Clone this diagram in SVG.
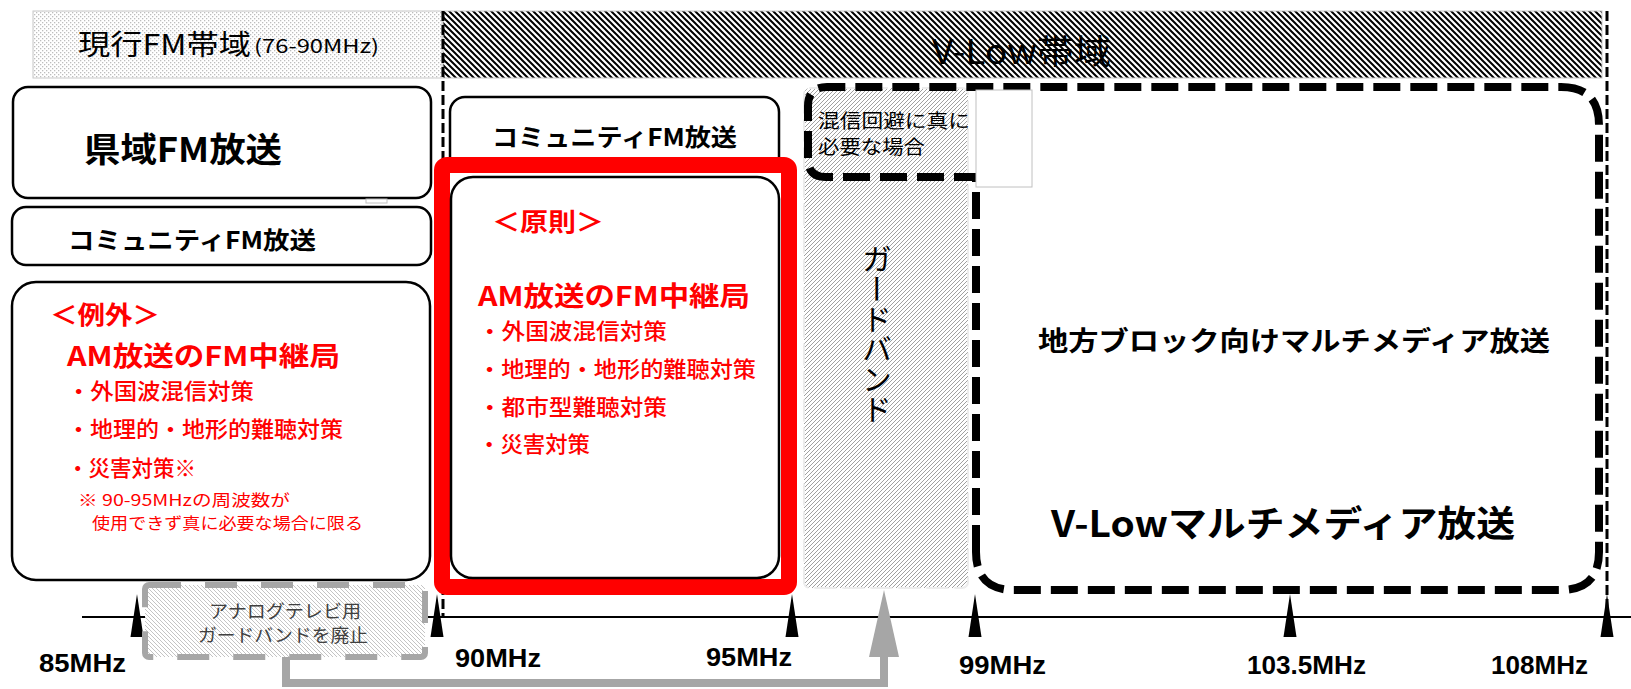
<svg xmlns="http://www.w3.org/2000/svg" xmlns:xlink="http://www.w3.org/1999/xlink" width="1631" height="689" viewBox="0 0 1631 689">
<style>
.jp{font-family:"Noto Sans CJK JP","Noto Sans",sans-serif;}
.b{font-weight:bold;}
.m{font-weight:500;}
.r{fill:#ff0000;}
.k{fill:#000;}
.lbl{font-family:"Liberation Sans",Arial,sans-serif;font-weight:bold;font-size:25px;fill:#000;}
.box{fill:#fff;stroke:#000;stroke-width:2.5;}
.bound{stroke:#000;stroke-width:3;stroke-dasharray:10 4;fill:none;}
</style>
<defs>
<pattern id="dots" width="4" height="4" patternUnits="userSpaceOnUse">
<rect width="4" height="4" fill="#fff"/>
<rect x="0" y="0" width="1.3" height="1.3" fill="#bdbdbd"/>
<rect x="2" y="2" width="1.3" height="1.3" fill="#bdbdbd"/>
</pattern>
<pattern id="hatchDark" width="6" height="6" patternUnits="userSpaceOnUse">
<rect width="6" height="6" fill="#fff"/>
<path d="M-1,-1 L7,7 M-1,5 L1,7 M5,-1 L7,1" stroke="#000" stroke-width="2"/>
</pattern>
<pattern id="hatchLight" width="4" height="4" patternUnits="userSpaceOnUse">
<rect width="4" height="4" fill="#fff"/>
<path d="M-1,5 L5,-1 M-1,1 L1,-1 M3,5 L5,3" stroke="#a0a0a0" stroke-width="1"/>
</pattern>
<pattern id="hatchGray" width="4" height="4" patternUnits="userSpaceOnUse">
<rect width="4" height="4" fill="#fff"/>
<path d="M-1,-1 L5,5 M-1,3 L1,5 M3,-1 L5,1" stroke="#c4c4c4" stroke-width="1"/>
</pattern>
<path id="tick" d="M0,-23 L6.5,20 L-6.5,20 Z" fill="#000"/>
<marker id="grayArrow" viewBox="0 0 67 30" markerWidth="67" markerHeight="30" refX="0" refY="15" orient="auto" markerUnits="userSpaceOnUse">
<path d="M0,0 L67,15 L0,30 Z" fill="#a6a6a6"/>
</marker>
</defs>
<rect width="1631" height="689" fill="#fff"/>

<g id="band-current-fm">
<rect x="33" y="11" width="409" height="67" fill="url(#dots)" stroke="#c8c8c8" stroke-width="1"/>
<text class="jp k" x="78" y="55" font-size="28" textLength="173" lengthAdjust="spacingAndGlyphs">現行FM帯域</text>
<text class="jp k" x="254" y="53" font-size="19" textLength="125" lengthAdjust="spacingAndGlyphs">(76-90MHz)</text>
</g>

<g id="band-vlow">
<rect x="443" y="11" width="1159" height="67" fill="url(#hatchDark)" stroke="#c8c8c8" stroke-width="1"/>
<text class="jp k" x="932" y="64" font-size="34" textLength="179" lengthAdjust="spacingAndGlyphs">V-Low帯域</text>
</g>

<g id="boundaries">
<line class="bound" x1="443" y1="11" x2="443" y2="617"/>
<line class="bound" x1="1607" y1="11" x2="1607" y2="617"/>
</g>

<g id="axis">
<line x1="82" y1="617" x2="1631" y2="617" stroke="#000" stroke-width="2"/>
<use xlink:href="#tick" x="137" y="617"/>
<use xlink:href="#tick" x="437" y="617"/>
<use xlink:href="#tick" x="792" y="617"/>
<use xlink:href="#tick" x="975" y="617"/>
<use xlink:href="#tick" x="1290" y="617"/>
<use xlink:href="#tick" x="1607" y="617"/>
<text class="lbl" x="39" y="672" textLength="87" lengthAdjust="spacingAndGlyphs">85MHz</text>
<text class="lbl" x="455" y="667" textLength="86" lengthAdjust="spacingAndGlyphs">90MHz</text>
<text class="lbl" x="706" y="666" textLength="86" lengthAdjust="spacingAndGlyphs">95MHz</text>
<text class="lbl" x="959" y="674" textLength="87" lengthAdjust="spacingAndGlyphs">99MHz</text>
<text class="lbl" x="1247" y="674" textLength="119" lengthAdjust="spacingAndGlyphs">103.5MHz</text>
<text class="lbl" x="1491" y="674" textLength="97" lengthAdjust="spacingAndGlyphs">108MHz</text>
</g>

<g id="node-prefecture-fm">
<rect class="box" x="13" y="87" width="418" height="111" rx="15"/>
<rect x="366" y="199" width="21" height="4" fill="#fff" stroke="#c0c0c0" stroke-width="1"/>
<text class="jp b k" x="84" y="162" font-size="34" textLength="198" lengthAdjust="spacingAndGlyphs">県域FM放送</text>
</g>

<g id="node-community-fm-left">
<rect class="box" x="12" y="207" width="419" height="58" rx="14"/>
<text class="jp b k" x="68" y="249" font-size="24" textLength="248" lengthAdjust="spacingAndGlyphs">コミュニティFM放送</text>
</g>

<g id="node-exception">
<rect class="box" x="12" y="282" width="418" height="298" rx="24"/>
<text class="jp b r" x="50" y="324" font-size="25" textLength="110" lengthAdjust="spacingAndGlyphs">＜例外＞</text>
<text class="jp b r" x="67" y="366" font-size="27" textLength="273" lengthAdjust="spacingAndGlyphs">AM放送のFM中継局</text>
<text class="jp m r" x="67" y="399" font-size="22" textLength="187" lengthAdjust="spacingAndGlyphs">・外国波混信対策</text>
<text class="jp m r" x="67" y="437" font-size="22" textLength="276" lengthAdjust="spacingAndGlyphs">・地理的・地形的難聴対策</text>
<text class="jp m r" x="67" y="476" font-size="22" textLength="129" lengthAdjust="spacingAndGlyphs">・災害対策※</text>
<text class="jp r" x="78" y="506" font-size="16" textLength="212" lengthAdjust="spacingAndGlyphs">※  90-95MHzの周波数が</text>
<text class="jp r" x="92" y="529" font-size="16" textLength="271" lengthAdjust="spacingAndGlyphs">使用できず真に必要な場合に限る</text>
</g>

<g id="node-community-fm-right">
<rect class="box" x="450" y="97" width="329" height="80" rx="15"/>
<text class="jp b k" x="492" y="146" font-size="24" textLength="245" lengthAdjust="spacingAndGlyphs">コミュニティFM放送</text>
</g>

<g id="node-principle">
<rect x="442" y="165" width="347" height="422" rx="5" fill="#fff" stroke="#ff0000" stroke-width="16"/>
<rect class="box" x="451" y="177" width="328" height="401" rx="22"/>
<text class="jp b r" x="492" y="231" font-size="25" textLength="112" lengthAdjust="spacingAndGlyphs">＜原則＞</text>
<text class="jp b r" x="478" y="306" font-size="27" textLength="272" lengthAdjust="spacingAndGlyphs">AM放送のFM中継局</text>
<text class="jp m r" x="478" y="339" font-size="22" textLength="189" lengthAdjust="spacingAndGlyphs">・外国波混信対策</text>
<text class="jp m r" x="478" y="377" font-size="22" textLength="278" lengthAdjust="spacingAndGlyphs">・地理的・地形的難聴対策</text>
<text class="jp m r" x="478" y="415" font-size="22" textLength="189" lengthAdjust="spacingAndGlyphs">・都市型難聴対策</text>
<text class="jp m r" x="478" y="452" font-size="22" textLength="112" lengthAdjust="spacingAndGlyphs">・災害対策</text>
</g>

<g id="node-guard-band">
<rect x="804" y="88" width="164" height="500" rx="6" fill="url(#hatchLight)" stroke="#ececec" stroke-width="2" stroke-dasharray="22 6"/>
<text class="jp k" x="877" y="244" font-size="30" style="writing-mode:vertical-rl">ガードバンド</text>
</g>

<g id="node-vlow-multimedia">
<path d="M976,552 V177 H826 Q808,177 808,159 V106 Q808,87 827,87 H1561 Q1599,87 1599,125 V552 Q1599,590 1561,590 H1014 Q976,590 976,552" fill="none" stroke="#000" stroke-width="8" stroke-dasharray="27 10"/>
<rect x="976" y="90" width="56" height="97" fill="#fff" stroke="#c0c0c0" stroke-width="1"/>
<text class="jp k" x="818" y="128" font-size="19" textLength="152" lengthAdjust="spacingAndGlyphs">混信回避に真に</text>
<text class="jp k" x="818" y="154" font-size="19" textLength="107" lengthAdjust="spacingAndGlyphs">必要な場合</text>
<text class="jp b k" x="1038" y="351" font-size="27" textLength="512" lengthAdjust="spacingAndGlyphs">地方ブロック向けマルチメディア放送</text>
<text class="jp b k" x="1051" y="537" font-size="36" textLength="464" lengthAdjust="spacingAndGlyphs">V-Lowマルチメディア放送</text>
</g>

<g id="node-analog-tv-guard">
<rect x="145" y="585" width="280" height="72" rx="4" fill="url(#hatchGray)" stroke="#a6a6a6" stroke-width="6" stroke-dasharray="32 24"/>
<text class="jp" x="209" y="618" font-size="18" fill="#404040" textLength="152" lengthAdjust="spacingAndGlyphs">アナログテレビ用</text>
<text class="jp" x="198" y="642" font-size="18" fill="#404040" textLength="170" lengthAdjust="spacingAndGlyphs">ガードバンドを廃止</text>
</g>

<g id="connectors">
<path d="M286,657 V683 H884 V657" fill="none" stroke="#a6a6a6" stroke-width="8" marker-end="url(#grayArrow)"/>
</g>
</svg>
